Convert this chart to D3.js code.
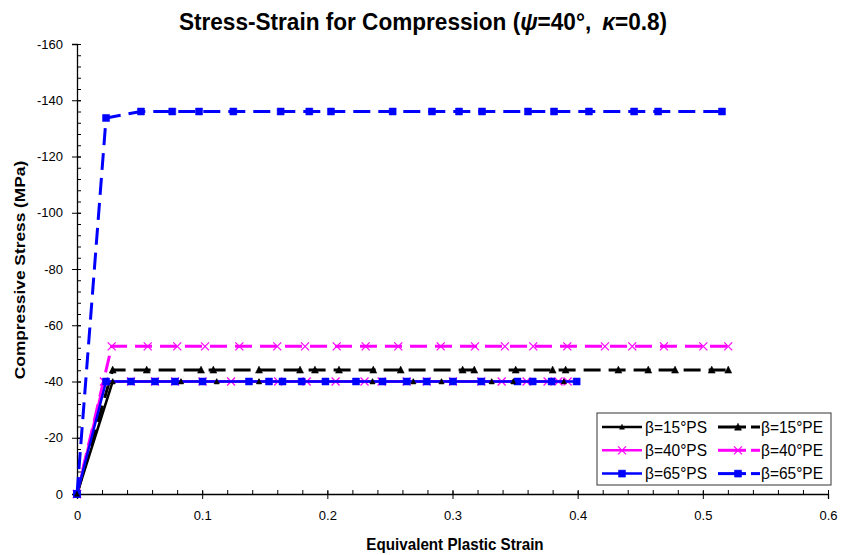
<!DOCTYPE html>
<html>
<head>
<meta charset="utf-8">
<style>
  body { margin: 0; background: #fff; }
  svg { display: block; font-family: "Liberation Sans", Arial, sans-serif; }
  .title { font-size: 22.6px; font-weight: bold; }
  .axisTitle { font-size: 15.2px; font-weight: bold; }
  .legendText { font-size: 15.5px; }
</style>
</head>
<body>
<svg width="844" height="555"></svg>
<script src="https://d3js.org/d3.v7.min.js"></script>
<script>
// values (strain, stress in MPa)
var ps15Strain = [0, 0.0285, 0.0831, 0.1116, 0.1454, 0.2361, 0.2687, 0.2912, 0.3313, 0.3486, 0.389];
var ps15Stress = [0, -40, -40, -40, -40, -40, -40, -40, -40, -40, -40];

var pe15Strain = [0, 0.0285, 0.0557, 0.0991, 0.1089, 0.1454, 0.1782, 0.1901, 0.2093, 0.2367, 0.2586,
                  0.3081, 0.3174, 0.3505, 0.38, 0.3904, 0.4325, 0.4564, 0.4778, 0.5071, 0.5203];
var pe15Stress = [0, -44.1, -44.1, -44.1, -44.1, -44.1, -44.1, -44.1, -44.1, -44.1, -44.1,
                  -44.1, -44.1, -44.1, -44.1, -44.1, -44.1, -44.1, -44.1, -44.1, -44.1];

var ps40Strain = [0, 0.0215, 0.0431, 0.0623, 0.0783, 0.1003, 0.1231, 0.1607, 0.1835, 0.2066, 0.2297,
                  0.2434, 0.2634, 0.2794, 0.3004, 0.323, 0.3393, 0.3592, 0.376, 0.3846, 0.392];
var ps40Stress = [0, -40, -40, -40, -40, -40, -40, -40, -40, -40, -40,
                  -40, -40, -40, -40, -40, -40, -40, -40, -40, -40];

var pe40Strain = [0, 0.0277, 0.0565, 0.0801, 0.1023, 0.1297, 0.160, 0.1822, 0.2075, 0.2306, 0.2567,
                  0.2906, 0.318, 0.3419, 0.3645, 0.3917, 0.4218, 0.4436, 0.4689, 0.5004, 0.5203];
var pe40Stress = [0, -52.5, -52.5, -52.5, -52.5, -52.5, -52.5, -52.5, -52.5, -52.5, -52.5,
                  -52.5, -52.5, -52.5, -52.5, -52.5, -52.5, -52.5, -52.5, -52.5, -52.5];

var ps65Strain = [0, 0.0232, 0.0431, 0.0623, 0.0783, 0.1003, 0.1374, 0.1534, 0.1642, 0.1795, 0.1985,
                  0.2229, 0.2441, 0.2634, 0.2794, 0.3004, 0.323, 0.3519, 0.3641, 0.3792, 0.3992];
var ps65Stress = [0, -40, -40, -40, -40, -40, -40, -40, -40, -40, -40,
                  -40, -40, -40, -40, -40, -40, -40, -40, -40, -40];

var pe65Strain = [0, 0.0232, 0.0511, 0.0761, 0.0975, 0.1249, 0.1627, 0.1856, 0.2029, 0.2522, 0.2836,
                  0.3052, 0.3236, 0.3603, 0.3811, 0.409, 0.4451, 0.4643, 0.5153];
var pe65Stress = [0, -133.7, -136.0, -136.0, -136.0, -136.0, -136.0, -136.0, -136.0, -136.0, -136.0,
                  -136.0, -136.0, -136.0, -136.0, -136.0, -136.0, -136.0, -136.0];

var xTicks = [0, 0.1, 0.2, 0.3, 0.4, 0.5, 0.6];
var yTicks = [0, -20, -40, -60, -80, -100, -120, -140, -160];

var series = [
  {name: "β=15°PS", x: ps15Strain, y: ps15Stress, color: "#000000", dash: null, marker: "tri", size: 5},
  {name: "β=15°PE", x: pe15Strain, y: pe15Stress, color: "#000000", dash: "17,8", marker: "tri", size: 7},
  {name: "β=40°PS", x: ps40Strain, y: ps40Stress, color: "#FF00FF", dash: null, marker: "x", size: 8},
  {name: "β=40°PE", x: pe40Strain, y: pe40Stress, color: "#FF00FF", dash: "17,8", marker: "x", size: 8},
  {name: "β=65°PS", x: ps65Strain, y: ps65Stress, color: "#0000FF", dash: null, marker: "sq", size: 7},
  {name: "β=65°PE", x: pe65Strain, y: pe65Stress, color: "#0000FF", dash: "17,8", marker: "sq", size: 7}
];

var svg = d3.select("svg");
var x = d3.scaleLinear().domain([0, 0.6]).range([77, 828]);
var y = d3.scaleLinear().domain([0, -160]).range([494, 44]);

function markerPath(type, s) {
  var h = s / 2;
  if (type === "sq") return "M" + (-h) + "," + (-h) + "h" + s + "v" + s + "h" + (-s) + "Z";
  if (type === "tri") return "M0," + (-h * 1.1) + "L" + h + "," + (h * 0.9) + "L" + (-h) + "," + (h * 0.9) + "Z";
  return "M" + (-h) + "," + (-h) + "L" + h + "," + h + "M" + h + "," + (-h) + "L" + (-h) + "," + h;
}

function drawMarkers(sel, s, pts) {
  sel.selectAll(null).data(pts).enter().append("path")
    .attr("transform", function(d) { return "translate(" + d[0] + "," + d[1] + ")"; })
    .attr("d", markerPath(s.marker, s.size))
    .attr("fill", s.marker === "x" ? "none" : s.color)
    .attr("stroke", s.color)
    .attr("stroke-width", s.marker === "x" ? 1.2 : 0.5);
}

// axes
var xAxis = svg.append("g").attr("transform", "translate(0,494)");
xAxis.call(d3.axisBottom(x).tickValues(d3.range(0, 0.6001, 0.02)).tickSize(0).tickFormat(""));
xAxis.selectAll(".tick line").attr("y1", 0).attr("y2", -4).attr("stroke", "#000");
var xMaj = svg.append("g").attr("transform", "translate(0,494)")
  .call(d3.axisBottom(x).tickValues(xTicks).tickSize(5).tickPadding(12)
    .tickFormat(function(d) { return d === 0 ? "0" : d3.format(".1f")(d); }));
xMaj.selectAll(".tick line").attr("y1", -3).attr("stroke", "#000");
xMaj.select(".domain").attr("stroke", "#000").attr("stroke-width", 1.3);
xAxis.select(".domain").remove();
xMaj.selectAll("text").style("font-size", "13px").style("font-family", "Liberation Sans, Arial").attr("fill", "#000");

var yAxis = svg.append("g").attr("transform", "translate(77,0)");
yAxis.call(d3.axisLeft(y).tickValues(d3.range(0, -160.1, -4)).tickSize(0).tickFormat(""));
yAxis.selectAll(".tick line").attr("x1", 0).attr("x2", 4).attr("stroke", "#000");
yAxis.select(".domain").remove();
var yMaj = svg.append("g").attr("transform", "translate(77,0)")
  .call(d3.axisLeft(y).tickValues(yTicks).tickSize(5).tickPadding(9)
    .tickFormat(function(d) { return d === 0 ? "0" : "-" + Math.abs(d); }));
yMaj.selectAll(".tick line").attr("x1", 4).attr("stroke", "#000");
yMaj.select(".domain").attr("stroke", "#000").attr("stroke-width", 1.3);
yMaj.selectAll("text").style("font-size", "13px").style("font-family", "Liberation Sans, Arial").attr("fill", "#000");

// lines
var line = d3.line().x(function(d) { return x(d[0]); }).y(function(d) { return y(d[1]); });
var order = [1, 3, 0, 2, 4, 5];
var plot = svg.append("g");
order.forEach(function(i) {
  var s = series[i];
  var pts = s.x.map(function(v, k) { return [v, s.y[k]]; });
  plot.append("path").datum(pts)
    .attr("fill", "none").attr("stroke", s.color)
    .attr("stroke-width", s.dash ? 3 : 2.5)
    .attr("stroke-dasharray", s.dash)
    .attr("d", line);
  drawMarkers(plot, s, pts.map(function(p) { return [x(p[0]), y(p[1])]; }));
});
// small triangles sit on top of the blue line
drawMarkers(plot, series[0], series[0].x.map(function(v, k) { return [x(v), y(series[0].y[k])]; }));

// title (text in the source is a bit taller than wide)
var t = svg.append("text").attr("class", "title")
  .attr("transform", "translate(423,30) scale(1,1.06)").attr("text-anchor", "middle");
t.append("tspan").text("Stress-Strain for Compression (");
t.append("tspan").style("font-style", "italic").text("ψ");
t.append("tspan").text("=40°,");
t.append("tspan").attr("dx", 11).style("font-style", "italic").text("κ");
t.append("tspan").text("=0.8)");

svg.append("text").attr("class", "axisTitle")
  .attr("transform", "translate(25,270) rotate(-90) scale(1.14,1)").attr("text-anchor", "middle")
  .text("Compressive Stress (MPa)");
svg.append("text").attr("class", "axisTitle")
  .attr("transform", "translate(455,550) scale(1,1.12)").attr("text-anchor", "middle")
  .text("Equivalent Plastic Strain");

// legend
var legend = svg.append("g");
legend.append("rect").attr("x", 597).attr("y", 413).attr("width", 234).attr("height", 72)
  .attr("fill", "#fff").attr("stroke", "#555").attr("stroke-width", 1.2);
series.forEach(function(s, i) {
  var col = i % 2, row = Math.floor(i / 2);
  var lx = col === 0 ? 602 : 718, ly = 427 + row * 23.3;
  var g = legend.append("g");
  if (s.dash) {
    g.append("line").attr("x1", lx).attr("x2", lx + 28).attr("y1", ly).attr("y2", ly)
      .attr("stroke", s.color).attr("stroke-width", 3);
    g.append("line").attr("x1", lx + 33).attr("x2", lx + 42).attr("y1", ly).attr("y2", ly)
      .attr("stroke", s.color).attr("stroke-width", 3);
  } else {
    g.append("line").attr("x1", lx).attr("x2", lx + 40).attr("y1", ly).attr("y2", ly)
      .attr("stroke", s.color).attr("stroke-width", 2.5);
  }
  drawMarkers(g, s, [[lx + 20, ly]]);
  g.append("text").attr("class", "legendText")
    .attr("transform", "translate(" + (lx + 43) + "," + (ly + 5.5) + ") scale(1,1.05)").text(s.name);
});
</script>
</body>
</html>
